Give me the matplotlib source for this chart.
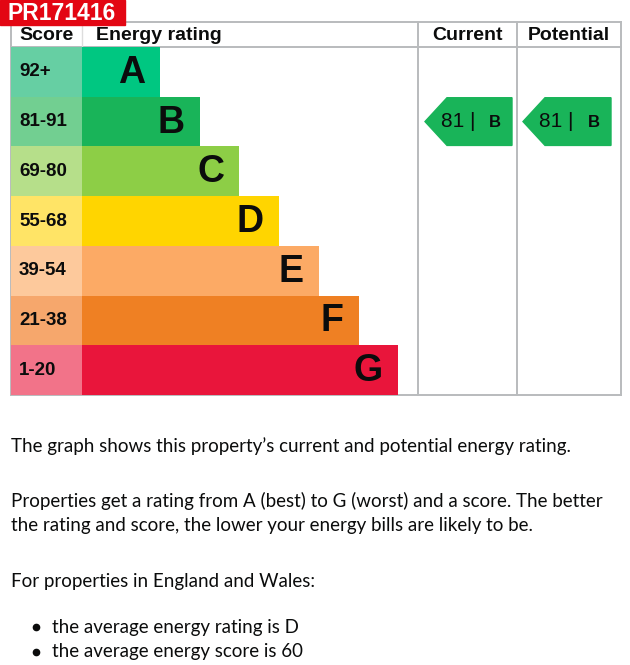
import matplotlib
matplotlib.use("Agg")
import matplotlib.pyplot as plt
from matplotlib.patches import Rectangle, Polygon

ref_code = "PR171416"
bands = ["A", "B", "C", "D", "E", "F", "G"]
score_ranges = ["92+", "81-91", "69-80", "55-68", "39-54", "21-38", "1-20"]
band_min = [92, 81, 69, 55, 39, 21, 1]
bar_colors = ["#00c781", "#19b459", "#8dce46", "#ffd500", "#fcaa65", "#ef8023", "#e9153b"]
score_colors = ["#66cfa3", "#72cf91", "#b6df8a", "#ffe466", "#fdc99c", "#f6a76c", "#f27389"]
current_score = 81
potential_score = 81

paragraphs = [
    (446, "The graph shows this property\u2019s current and potential energy rating."),
    (501, "Properties get a rating from A (best) to G (worst) and a score. The better"),
    (526, "the rating and score, the lower your energy bills are likely to be."),
    (581, "For properties in England and Wales:"),
]
bullets = [
    (627, "the average energy rating is D"),
    (652, "the average energy score is 60"),
]

W, H = 630, 665
fig = plt.figure(figsize=(W / 100, H / 100), dpi=100)
ax = fig.add_axes([0, 0, 1, 1])
ax.set_xlim(0, W)
ax.set_ylim(H, 0)
ax.axis("off")

grid = "#b9bbbd"
ink = "#0b0c0c"
top, head_bot, bottom = 22, 47, 395
row_h = (bottom - head_bot) / len(bands)
left, score_right = 11, 82
col_cur, col_pot, right = 418, 517, 621

# table lines
for y in (top, head_bot, bottom):
    ax.plot([left, right], [y, y], color=grid, lw=1.4, zorder=1)
for x in (left, col_cur, col_pot, right):
    ax.plot([x, x], [top, bottom], color=grid, lw=1.4, zorder=1)
ax.plot([score_right, score_right], [top, head_bot], color="#dddddd", lw=1.0, zorder=1)

# header
hfont = dict(family="Liberation Sans", weight="bold", fontsize=14, color=ink, va="center")
ax.text(19, 35, "Score", ha="left", **hfont)
ax.text(96, 35, "Energy rating", ha="left", **hfont)
ax.text((col_cur + col_pot) / 2, 35, "Current", ha="center", **hfont)
ax.text((col_pot + right) / 2, 35, "Potential", ha="center", **hfont)

# bands
centers = [head_bot + row_h * (i + 0.5) for i in range(len(bands))]
lengths = [78 + 39.7 * i for i in range(len(bands))]
ax.barh(centers, [score_right - left] * len(bands), left=left, height=row_h,
        color=score_colors, zorder=2)
ax.barh(centers, lengths, left=score_right, height=row_h, color=bar_colors, zorder=2)
for i, b in enumerate(bands):
    ax.text(19, centers[i], score_ranges[i], ha="left", va="center",
            family="Liberation Sans", weight="bold", fontsize=13.5, color=ink, zorder=3)
    ax.text(score_right + lengths[i] - 15, centers[i] + 1, b, ha="right", va="center",
            family="Liberation Sans", weight="bold", fontsize=27, color=ink, zorder=3)


def band_of(score):
    for i, m in enumerate(band_min):
        if score >= m:
            return i
    return len(bands) - 1


def arrow(x0, x1, score):
    i = band_of(score)
    y0, y1 = head_bot + row_h * i + 1, head_bot + row_h * (i + 1) - 1
    yc = (y0 + y1) / 2
    tip = 22
    ax.add_patch(Polygon([(x0, yc), (x0 + tip, y0), (x1, y0), (x1, y1), (x0 + tip, y1)],
                         closed=True, color=bar_colors[i], zorder=2))
    ax.text(x0 + 16, yc, f"{score} |", ha="left", va="center",
            family="Liberation Sans", fontsize=15, color=ink, zorder=3)
    ax.text(x1 - 11, yc + 1, bands[i], ha="right", va="center",
            family="Liberation Sans", weight="bold", fontsize=12, color=ink, zorder=3)


arrow(425, 512, current_score)
arrow(523, 611, potential_score)

# reference label
ax.add_patch(Rectangle((0, 0), 125, 25, color="#e30613", zorder=4))
ax.text(62, 13, ref_code, ha="center", va="center", family="Liberation Sans",
        weight="bold", fontsize=16.5, color="white", zorder=5)

# text below
tfont = dict(family="Lato", fontsize=13.5, color=ink, va="center")
for y, s in paragraphs:
    ax.text(11, y, s, ha="left", **tfont)
for y, s in bullets:
    ax.plot(36, y, "o", color=ink, ms=4.5)
    ax.text(52, y, s, ha="left", **tfont)

fig.savefig("out.png", dpi=100)
